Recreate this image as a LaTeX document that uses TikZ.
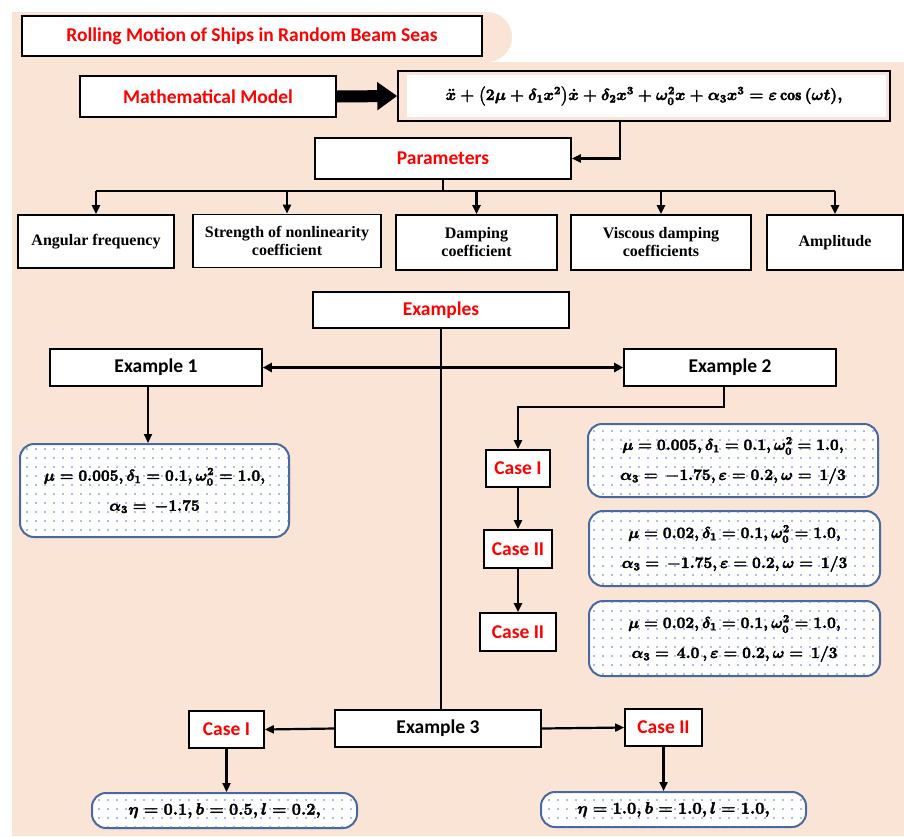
\RequirePackage{fix-cm}
\documentclass[tikz,border=0pt]{standalone}
\usepackage{fontspec}
\usepackage{amsmath,amssymb}
\newfontfamily\calibri{Carlito}
\newfontfamily\cambria{Liberation Serif}
\definecolor{bgpeach}{RGB}{250,228,214}
\definecolor{boxred}{RGB}{255,0,0}
\definecolor{dotblue}{RGB}{50,90,220}
\definecolor{rimblue}{RGB}{72,104,160}
\usetikzlibrary{arrows.meta,positioning,calc,patterns.meta}
\newcommand\bmath[1]{{\boldmath\special{pdf:literal direct 2 Tr 0.4 w}$#1$\special{pdf:literal direct 0 Tr}}}

\tikzset{
  hbox/.style={draw=black,line width=1.6pt,fill=white,align=center,inner sep=0pt,
               font=\calibri\fontsize{19.5}{22}\selectfont\bfseries},
  redbox/.style={hbox,text=boxred},
  blkbox/.style={hbox,text=black},
  parbox/.style={draw=black,line width=1.6pt,fill=white,align=center,inner sep=0pt,
                 font=\cambria\fontsize{16}{18}\selectfont\bfseries},
  eqbox/.style={draw=black,line width=1.6pt,fill=bgpeach,inner sep=0pt,
                font=\fontsize{16}{18}\selectfont,
                path picture={\fill[white]
                  ([xshift=9pt,yshift=-4pt]path picture bounding box.north west) rectangle
                  ([xshift=-4pt,yshift=4pt]path picture bounding box.south east);}},
  valbox/.style={draw=rimblue,line width=2pt,rounded corners=14pt,fill=white,
                 align=center,inner sep=0pt,
                 postaction={pattern={Dots[distance=9pt,radius=0.8pt]},pattern color=dotblue!80},
                 font=\fontsize{15.6}{30}\selectfont},
  arr/.style={-{Triangle[length=9pt,width=8pt]},line width=2.2pt},
  fatarr/.style={-{Triangle[length=20pt,width=27pt]},line width=12pt},
}

\begin{document}
\begin{tikzpicture}[x=1pt,y=-1pt]
  \useasboundingbox (0,0) rectangle (904,836);
  %% Background
  \fill[bgpeach,rounded corners=25pt] (12,12) rectangle (512,62);
  \fill[bgpeach] (12,12) rectangle (450,62);
  \fill[bgpeach] (12,62) rectangle (904,836);

  %% Title and model
  \node[redbox,minimum width=460pt,minimum height=40pt] (title) at (252,36)
        {Rolling Motion of Ships in Random Beam Seas};
  \node[redbox,minimum width=256pt,minimum height=41pt] (model) at (208,96.5)
        {Mathematical Model};
  \node[eqbox,minimum width=492pt,minimum height=50pt] (eqn) at (644,96)
        {\bmath{\ddot{x}+\bigl(2\mu+\delta_1x^2\bigr)\dot{x}+\delta_2x^3+\omega_0^2x+\alpha_3x^3=\varepsilon\cos{(\omega t)},}};
  \node[redbox,minimum width=256pt,minimum height=41pt] (params) at (443,158.5)
        {Parameters};

  %% Parameter boxes
  \node[parbox,minimum width=156pt,minimum height=53pt] (p1) at (96,241.5)
        {Angular frequency};
  \node[parbox,minimum width=188pt,minimum height=53pt] (p2) at (287,241)
        {Strength of nonlinearity\\coefficient};
  \node[parbox,minimum width=161pt,minimum height=55pt] (p3) at (476.5,242.5)
        {Damping\\coefficient};
  \node[parbox,minimum width=180pt,minimum height=55pt] (p4) at (661,242.5)
        {Viscous damping\\coefficients};
  \node[parbox,minimum width=136pt,minimum height=55pt] (p5) at (835,242.5)
        {Amplitude};

  %% Examples
  \node[redbox,minimum width=256pt,minimum height=36pt] (examples) at (441,310)
        {Examples};
  \node[blkbox,minimum width=212pt,minimum height=37pt] (ex1) at (156,367.5)
        {Example 1};
  \node[blkbox,minimum width=212pt,minimum height=37pt] (ex2) at (730,367.5)
        {Example 2};
  \node[blkbox,minimum width=206pt,minimum height=37pt] (ex3) at (438,728.5)
        {Example 3};

  %% Example 1 values
  \node[valbox,minimum width=269pt,minimum height=93pt] (v1) at (154.5,490.5)
        {\bmath{\mu=0.005,\delta_1=0.1,\omega_0^2=1.0,}\\\bmath{\alpha_3=\,-1.75}};

  %% Example 2 cases
  \node[redbox,minimum width=64pt,minimum height=37pt] (caseA) at (518,468.5) {Case I};
  \node[redbox,minimum width=68pt,minimum height=38pt] (caseB) at (518,549) {Case II};
  \node[redbox,minimum width=76pt,minimum height=38pt] (caseC) at (518,632) {Case II};
  \node[valbox,minimum width=290pt,minimum height=73pt] (vA) at (733,460.5)
        {\bmath{\mu=0.005,\delta_1=0.1,\omega_0^2=1.0,}\\\bmath{\alpha_3=\,-1.75,\varepsilon=0.2,\omega=\,1/3}};
  \node[valbox,minimum width=291pt,minimum height=75pt] (vB) at (734.5,548.5)
        {\bmath{\mu=0.02,\delta_1=0.1,\omega_0^2=1.0,}\\\bmath{\alpha_3=\,-1.75,\varepsilon=0.2,\omega=\,1/3}};
  \node[valbox,minimum width=291pt,minimum height=75pt] (vC) at (734.5,638.5)
        {\bmath{\mu=0.02,\delta_1=0.1,\omega_0^2=1.0,}\\\bmath{\alpha_3=\,4.0\,,\varepsilon=0.2,\omega=\,1/3}};

  %% Example 3 cases
  \node[redbox,minimum width=75pt,minimum height=37pt] (caseL) at (226.5,729.5) {Case I};
  \node[redbox,minimum width=77pt,minimum height=37pt] (caseR) at (663.5,727.5) {Case II};
  \node[valbox,minimum width=265pt,minimum height=35pt,font=\fontsize{16.4}{20}\selectfont] (vL) at (224.5,810.5)
        {\bmath{\eta=0.1,b=0.5,l=0.2,}};
  \node[valbox,minimum width=265pt,minimum height=35pt,font=\fontsize{16.4}{20}\selectfont] (vR) at (673.5,809.5)
        {\bmath{\eta=1.0,b=1.0,l=1.0,}};

  %% Arrows
  \draw[fatarr] (model.east) -- (eqn.west);
  \draw[arr] ([xshift=-24pt]eqn.south) |- (params.east);
  \coordinate (bus) at (params.south |- 0,191);
  \draw[line width=2.2pt] (params.south) -- (bus);
  \draw[line width=2.2pt] (bus -| p1.north) -- (bus -| p5.north);
  \foreach \p in {p1,p2,p3,p4,p5}
    \draw[arr] (bus -| \p.north) -- (\p.north);
  \draw[line width=2.2pt] (examples.south) -- (examples.south |- ex3.north);
  \draw[arr,line width=2.6pt,{Triangle[length=9pt,width=9pt]}-{Triangle[length=9pt,width=9pt]}]
        (ex1.east) -- (ex2.west);
  \draw[arr] ([xshift=-8pt]ex1.south) -- ([xshift=-8pt]ex1.south |- v1.north);
  \draw[arr] ([xshift=-6pt]ex2.south) -- ++(0,20) -| (caseA.north);
  \draw[arr] (caseA.south) -- (caseB.north);
  \draw[arr] (caseB.south) -- (caseC.north);
  \draw[arr] (ex3.west) -- (caseL.east);
  \draw[arr] (ex3.east) -- (caseR.west);
  \draw[arr] (caseL.south) -- (caseL.south |- vL.north);
  \draw[arr] (caseR.south) -- (caseR.south |- vR.north);
\end{tikzpicture}
\end{document}
